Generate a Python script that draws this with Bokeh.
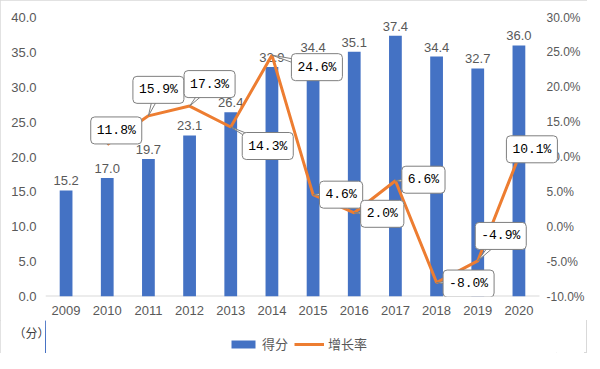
import math
from bokeh.plotting import figure
from bokeh.layouts import column
from bokeh.models import (Range1d, LinearAxis, FixedTicker, NumeralTickFormatter,
                          Label, Legend, LegendItem, ColumnDataSource)
from bokeh.embed import file_html
from bokeh.resources import INLINE
from bokeh.core.properties import value

# ---- data ----
years = ["2009", "2010", "2011", "2012", "2013", "2014",
         "2015", "2016", "2017", "2018", "2019", "2020"]
scores = [15.2, 17.0, 19.7, 23.1, 26.4, 32.9, 34.4, 35.1, 37.4, 34.4, 32.7, 36.0]
growth_years = years[1:]
growth = [0.118, 0.159, 0.173, 0.143, 0.246, 0.046, 0.020, 0.066, -0.080, -0.049, 0.101]
left_ticks = [0, 5, 10, 15, 20, 25, 30, 35, 40]
right_ticks = [-0.10, -0.05, 0.0, 0.05, 0.10, 0.15, 0.20, 0.25, 0.30]
series_names = ["得分", "增长率"]
unit_text = "（分）"

# callout box offsets from the point (screen px, y down) - layout only
callout_dx = [9, 10, 20, 37, 45, 28, 28, 28, 32, 23, 13]
callout_dy = [-14, -26, -22, 19, 12, 0, 1, -1, 1, -25, -7]

CAT_W = 494 / 12.0      # px per category
EXTRA = 20              # extra frame px on the right (room for callouts)
FRAME_W, FRAME_H = 494 + EXTRA, 279
LEFT = 45
TOTAL_W = 584
BLUE, ORANGE = "#4472C4", "#ED7D31"
GREY = "#595959"
FONT = "Liberation Sans"
CJK = "Noto Sans CJK SC"

p = figure(frame_width=FRAME_W, frame_height=FRAME_H,
           x_range=Range1d(-0.5, 11.5 + EXTRA / CAT_W), y_range=Range1d(0, 40),
           output_backend="svg", toolbar_location=None,
           min_border_left=LEFT, min_border_right=0, min_border_top=17, min_border_bottom=24)
p.extra_y_ranges = {"pct": Range1d(-0.10, 0.30)}
p.outline_line_color = None
p.grid.visible = False
p.background_fill_color = "white"
p.border_fill_color = "white"

# left axis
ya = p.yaxis[0]
ya.ticker = FixedTicker(ticks=left_ticks)
ya.formatter = NumeralTickFormatter(format="0.0")
ya.axis_line_color = None
ya.major_tick_line_color = None
ya.minor_tick_line_color = None
ya.major_tick_out = 0
ya.major_label_standoff = 9
ya.major_label_text_color = GREY
ya.major_label_text_font = FONT
ya.major_label_text_font_size = "13px"

# right axis (labels pulled back over the extra frame strip)
ra = LinearAxis(y_range_name="pct", ticker=FixedTicker(ticks=right_ticks),
                formatter=NumeralTickFormatter(format="0.0%"))
ra.axis_line_color = None
ra.major_tick_line_color = None
ra.minor_tick_line_color = None
ra.major_tick_out = 0
ra.major_label_standoff = 7 - EXTRA
ra.major_label_text_color = GREY
ra.major_label_text_font = FONT
ra.major_label_text_font_size = "12px"
p.add_layout(ra, "right")

# x axis
xa = p.xaxis[0]
xa.ticker = FixedTicker(ticks=list(range(len(years))))
xa.major_label_overrides = {i: y for i, y in enumerate(years)}
xa.axis_line_color = None
xa.major_tick_line_color = None
xa.minor_tick_line_color = None
xa.major_tick_out = 0
xa.major_tick_in = 0
xa.major_label_standoff = 9
xa.major_label_text_color = GREY
xa.major_label_text_font = FONT
xa.major_label_text_font_size = "13px"

# baseline only under the categories
p.segment(x0=-0.5, y0=0, x1=len(years) - 0.5, y1=0, line_color="#d9d9d9", line_width=2)

# bars
xs = list(range(len(years)))
src = ColumnDataSource(dict(x=xs, top=scores, lbl=[f"{s:.1f}" for s in scores]))
p.vbar(x="x", top="top", width=0.31, source=src, fill_color=BLUE, line_color=None)
p.text(x="x", y="top", text="lbl", source=src, text_align="center",
       text_baseline="bottom", y_offset=-5, text_color=GREY,
       text_font=value(FONT), text_font_size="13px")

# growth line
gx = [years.index(y) for y in growth_years]
p.line(gx, growth, y_range_name="pct", line_color=ORANGE, line_width=3)

# callouts
ppp = 0.40 / FRAME_H          # pct per px
tri_xs, tri_ys = [], []
for x0, g, dx, dy in zip(gx, growth, callout_dx, callout_dy):
    cx = x0 + dx / CAT_W
    cy = g - dy * ppp
    L = math.hypot(dx, dy)
    if L > 0:
        nx, ny = -dy / L * 4, dx / L * 4
        tri_xs.append([x0, cx + nx / CAT_W, cx - nx / CAT_W])
        tri_ys.append([g, cy - ny * ppp, cy + ny * ppp])
    lab = Label(x=cx, y=cy, y_range_name="pct", text=f"{g*100:.1f}%",
                text_align="center", text_baseline="middle",
                text_font="Liberation Mono", text_font_size="13px",
                text_color="black", background_fill_color="white",
                border_line_color="#7f7f7f", border_line_width=1,
                padding=6, border_radius=4)
    p.add_layout(lab)
p.patches(tri_xs, tri_ys, y_range_name="pct", fill_color="white",
          line_color="#7f7f7f", line_width=1)

# ---- bottom strip: unit label + legend (frame aligned with the main plot's frame) ----
STRIP_H = 33
q = figure(width=TOTAL_W, height=STRIP_H, x_range=Range1d(LEFT, LEFT + FRAME_W),
           y_range=Range1d(0, STRIP_H), x_axis_type=None, y_axis_type=None,
           output_backend="svg", toolbar_location=None, min_border=0)
q.outline_line_color = None
q.background_fill_color = "white"
q.border_fill_color = "white"

# unit label in the strip's left side panel (not clipped to the frame)
q.add_layout(Label(x=31, y=21, text=unit_text, text_align="center",
                   text_baseline="middle", text_font=CJK, text_font_size="12px",
                   text_color="#404040"), "left")

# series renderers for the legend (their data lie outside this strip's range)
lb = q.vbar(x=xs, top=scores, width=0.31, fill_color=BLUE, line_color=None)
ll = q.line(gx, growth, line_color=ORANGE, line_width=3)
legend = Legend(items=[LegendItem(label=series_names[0], renderers=[lb]),
                       LegendItem(label=series_names[1], renderers=[ll])],
                orientation="horizontal", location=(228 - LEFT, 0),
                glyph_width=30, glyph_height=10, label_height=16,
                label_standoff=4, spacing=6,
                padding=0, margin=0, border_line_color=None,
                background_fill_alpha=0,
                label_text_font=CJK, label_text_font_size="13px",
                label_text_color=GREY)
q.add_layout(legend, "center")

layout = column(p, q, spacing=0,
                styles={"outline": "1px solid #d9d9d9", "outline-offset": "-1px"})

open("out.html", "w").write(file_html(layout, INLINE))
